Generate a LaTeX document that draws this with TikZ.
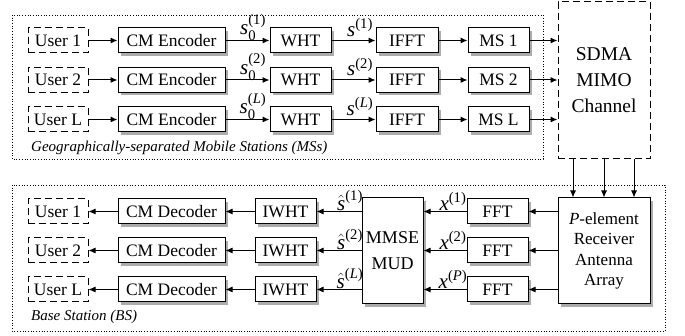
\documentclass[tikz,border=0pt]{standalone}
\usepackage{amsmath}
\usepackage{fontspec}
\setmainfont{Liberation Serif}
\usetikzlibrary{arrows.meta,shadows,calc}

\begin{document}
\begin{tikzpicture}[x=1pt,y=-1pt,
  txt/.style={font=\fontsize{17.5}{20}\selectfont},
  box/.style={txt, draw, line width=1pt, fill=white, minimum height=25pt,
    inner sep=0pt,
    drop shadow={shadow xshift=3pt, shadow yshift=-3pt, opacity=1, fill=gray!65}},
  userbox/.style={txt, draw, line width=1pt, dash pattern=on 7pt off 4pt,
    minimum width=60pt, minimum height=25pt, inner sep=0pt},
  arr/.style={-{Latex[length=7pt,width=6pt]}, line width=1pt},
  sig/.style={font=\fontsize{21}{24}\selectfont, anchor=south, inner sep=1pt},
  group/.style={draw, dotted, line width=0.7pt},
  caption/.style={font=\fontsize{15}{17}\selectfont\itshape, anchor=west, inner sep=0pt}]

\useasboundingbox (0,0) rectangle (685,336);

% ---------- transmitter side ----------
\draw[group] (12,15) rectangle (543,159);
\node[caption] (capms) at (31,148) {Geographically-separated Mobile Stations (MSs)};

\foreach \r/\y/\u/\m/\sup in {1/40.5/1/1/1, 2/80/2/2/2, 3/119.5/L/L/\textit{L}} {
  \node[userbox] (u\r) at (58,\y) {User \u};
  \node[box, minimum width=107pt] (enc\r) at (171.5,\y) {CM Encoder};
  \node[box, minimum width=61pt] (wht\r) at (300.5,\y) {WHT};
  \node[box, minimum width=62pt] (ifft\r) at (407,\y) {IFFT};
  \node[box, minimum width=61pt] (ms\r) at (498.5,\y) {MS \m};
  \draw[arr] (u\r) -- (enc\r);
  \draw[arr] (enc\r) -- (wht\r);
  \draw[arr] (wht\r) -- (ifft\r);
  \draw[arr] (ifft\r) -- (ms\r);
  \node[sig, inner sep=0pt] (sz\r) at (253,\y+0.5) {$\textit{s}_{\text{0}}^{\text{(\sup)}}$};
  \node[sig, inner sep=4pt] (s\r) at (360,\y) {$\textit{s}^{\text{(\sup)}}$};
}

\node[draw, line width=1pt, dash pattern=on 7pt off 4pt, minimum width=92pt,
  minimum height=157pt, inner sep=0pt, align=center,
  font=\fontsize{19.5}{26}\selectfont] (sdma) at (604,80.5) {SDMA\\MIMO\\Channel};

\foreach \r in {1,2,3}
  \draw[arr] (ms\r.east) -- (ms\r.east -| sdma.west);

% ---------- receiver side ----------
\draw[group] (12,185) rectangle (665,331);
\node[caption] (capbs) at (31,317) {Base Station (BS)};

\node[box, minimum width=61pt, minimum height=106pt, align=center,
  font=\fontsize{18}{26}\selectfont] (mud) at (392.5,251) {MMSE\\MUD};
\node[box, minimum width=92pt, minimum height=106pt, align=center,
  font=\fontsize{17}{20.5}\selectfont] (pel) at (604,251)
  {\textit{P}-element\\Receiver\\Antenna\\Array};

\foreach \r/\y/\u/\sup/\xs in {1/211.5/1/1/1, 2/250.5/2/2/2, 3/289.5/L/\textit{L}/\textit{P}} {
  \node[userbox] (d\r) at (58,\y) {User \u};
  \node[box, minimum width=107pt] (dec\r) at (171.5,\y) {CM Decoder};
  \node[box, minimum width=61pt] (iwht\r) at (285.5,\y) {IWHT};
  \node[box, minimum width=61pt] (fft\r) at (497.5,\y) {FFT};
  \draw[arr] (dec\r) -- (d\r);
  \draw[arr] (iwht\r) -- (dec\r);
  \draw[arr] (iwht\r.east -| mud.west) -- (iwht\r);
  \draw[arr] (fft\r) -- (fft\r.west -| mud.east);
  \draw[arr] (fft\r.east -| pel.west) -- (fft\r);
  \node[sig] (sh\r) at (350,\y) {$\hat{\textit{s}}^{\text{(\sup)}}$};
  \node[sig] (x\r) at (453,\y) {$\textit{x}^{\text{(\xs)}}$};
}

% channel outputs to the receive antennas
\foreach \dx in {-31,0,30}
  \draw[arr] ([xshift=\dx pt]sdma.south) -- ([xshift=\dx pt]pel.north);

\end{tikzpicture}
\end{document}
